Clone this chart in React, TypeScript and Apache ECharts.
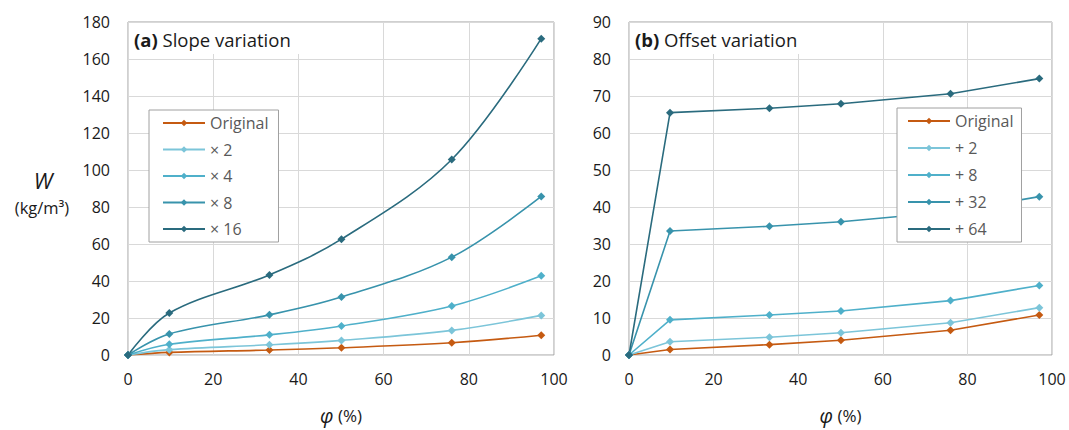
import React, { useEffect, useRef } from 'react';
import * as echarts from 'echarts';

const phi = [0, 9.7, 33.2, 50.1, 76, 97];

const slopeNames = ['Original', '× 2', '× 4', '× 8', '× 16'];
const slopeOriginal = [0, 1.4, 2.7, 3.9, 6.6, 10.7];
const slopeX2 = [0, 2.9, 5.5, 7.9, 13.3, 21.4];
const slopeX4 = [0, 5.8, 10.9, 15.7, 26.5, 42.8];
const slopeX8 = [0, 11.4, 21.7, 31.3, 52.9, 85.7];
const slopeX16 = [0, 22.7, 43.3, 62.6, 105.7, 171];

const offsetNames = ['Original', '+ 2', '+ 8', '+ 32', '+ 64'];
const offsetOriginal = [0, 1.5, 2.8, 4.0, 6.7, 10.8];
const offsetP2 = [0, 3.6, 4.8, 6.0, 8.7, 12.8];
const offsetP8 = [0, 9.5, 10.8, 11.9, 14.7, 18.8];
const offsetP32 = [0, 33.5, 34.8, 36.0, 38.7, 42.8];
const offsetP64 = [0, 65.5, 66.7, 67.9, 70.6, 74.7];

const xTicks = { min: 0, max: 100, interval: 20 };
const yLeftTicks = { min: 0, max: 180, interval: 20 };
const yRightTicks = { min: 0, max: 90, interval: 10 };

const colors = ['#C55A11', '#7CC5D9', '#4FB0CA', '#3893AC', '#2A6B7E'];

const FONT = 'Open Sans';

export default function App() {
  const ref = useRef<HTMLDivElement>(null);
  useEffect(() => {
    document.body.style.margin = '0';
    const chart = echarts.init(ref.current!, null, { renderer: 'svg' });
    const slopeSets = [slopeOriginal, slopeX2, slopeX4, slopeX8, slopeX16];
    const offsetSets = [offsetOriginal, offsetP2, offsetP8, offsetP32, offsetP64];
    const mk = (name: string, vals: number[], i: number, idx: number, smooth: boolean) => ({
      type: 'line',
      name,
      xAxisIndex: idx,
      yAxisIndex: idx,
      data: phi.map((x, k) => [x, vals[k]]),
      smooth: smooth ? 0.35 : false,
      symbol: 'diamond',
      symbolSize: 8,
      showSymbol: true,
      color: colors[i],
      lineStyle: { width: 1.6, color: colors[i] },
      itemStyle: { color: colors[i] },
      z: 2,
    });
    const series: any[] = [];
    slopeSets.forEach((v, i) => series.push(mk(slopeNames[i], v, i, 0, true)));
    offsetSets.forEach((v, i) => series.push(mk(offsetNames[i], v, i, 1, false)));

    const axisLabel = { fontSize: 16, color: '#1a1a1a', fontFamily: FONT };
    const splitLine = { show: true, lineStyle: { color: '#d9d9d9', width: 1 } };
    const xAxisBase = (gi: number) => ({
      type: 'value',
      gridIndex: gi,
      ...xTicks,
      axisLine: { show: false },
      axisTick: { show: false },
      axisLabel: { ...axisLabel, margin: 16 },
      splitLine,
      name: '{i|φ} (%)',
      nameLocation: 'middle',
      nameGap: 50,
      nameTextStyle: {
        fontSize: 17,
        color: '#1a1a1a',
        fontFamily: FONT,
        rich: { i: { fontStyle: 'italic', fontSize: 20, fontFamily: FONT, color: '#1a1a1a' } },
      },
    });
    const yAxisBase = (gi: number, t: any) => ({
      type: 'value',
      gridIndex: gi,
      ...t,
      axisLine: { show: false },
      axisTick: { show: false },
      axisLabel: { ...axisLabel, margin: 18 },
      splitLine,
    });
    const legendBase = {
      orient: 'vertical',
      backgroundColor: '#ffffff',
      borderColor: '#a0a0a0',
      borderWidth: 1,
      itemWidth: 42,
      itemHeight: 8,
      itemGap: 10.5,
      selectedMode: false,
      z: 20,
      textStyle: { fontSize: 16, color: '#595959', fontFamily: FONT, lineHeight: 16 },
    };
    const titleText = (x: number, label: string, rest: string, w: number) => [
      {
        type: 'rect',
        shape: { x: x + 1, y: 23, width: w, height: 31 },
        style: { fill: '#ffffff' },
        z: 10,
        silent: true,
      },
      {
        type: 'text',
        x: x + 6,
        y: 39,
        z: 11,
        style: {
          text: `{b|${label}} ${rest}`,
          fontSize: 18.5,
          fontFamily: FONT,
          fill: '#1a1a1a',
          verticalAlign: 'middle',
          rich: { b: { fontWeight: 'bold', fontSize: 18.5, fontFamily: FONT, fill: '#1a1a1a' } },
        },
      },
    ];

    chart.setOption({
      animation: false,
      textStyle: { fontFamily: FONT },
      grid: [
        { left: 128, top: 22, width: 426, height: 344, show: true, borderColor: '#a0a0a0', borderWidth: 1, backgroundColor: 'transparent' },
        { left: 629, top: 22, width: 423, height: 344, show: true, borderColor: '#a0a0a0', borderWidth: 1, backgroundColor: 'transparent' },
      ],
      xAxis: [xAxisBase(0), xAxisBase(1)],
      yAxis: [yAxisBase(0, yLeftTicks), yAxisBase(1, yRightTicks)],
      legend: [
        { ...legendBase, left: 149, top: 110, padding: [5, 10, 5, 13], data: slopeNames },
        { ...legendBase, left: 897, top: 108, itemGap: 11, padding: [5, 8, 5, 10], data: offsetNames },
      ],
      graphic: [
        ...titleText(128, '(a)', 'Slope variation', 172),
        ...titleText(629, '(b)', 'Offset variation', 180),
        {
          type: 'text',
          x: 43,
          y: 180,
          style: {
            text: 'W',
            fontSize: 22,
            fontStyle: 'italic',
            fontFamily: FONT,
            fill: '#1a1a1a',
            align: 'center',
            verticalAlign: 'middle',
          },
        },
        {
          type: 'text',
          x: 42,
          y: 207,
          style: {
            text: '(kg/m³)',
            fontSize: 16.5,
            fontFamily: FONT,
            fill: '#1a1a1a',
            align: 'center',
            verticalAlign: 'middle',
          },
        },
      ],
      series,
    });
    return () => chart.dispose();
  }, []);
  return <div ref={ref} style={{ width: 1069, height: 430 }} />;
}
